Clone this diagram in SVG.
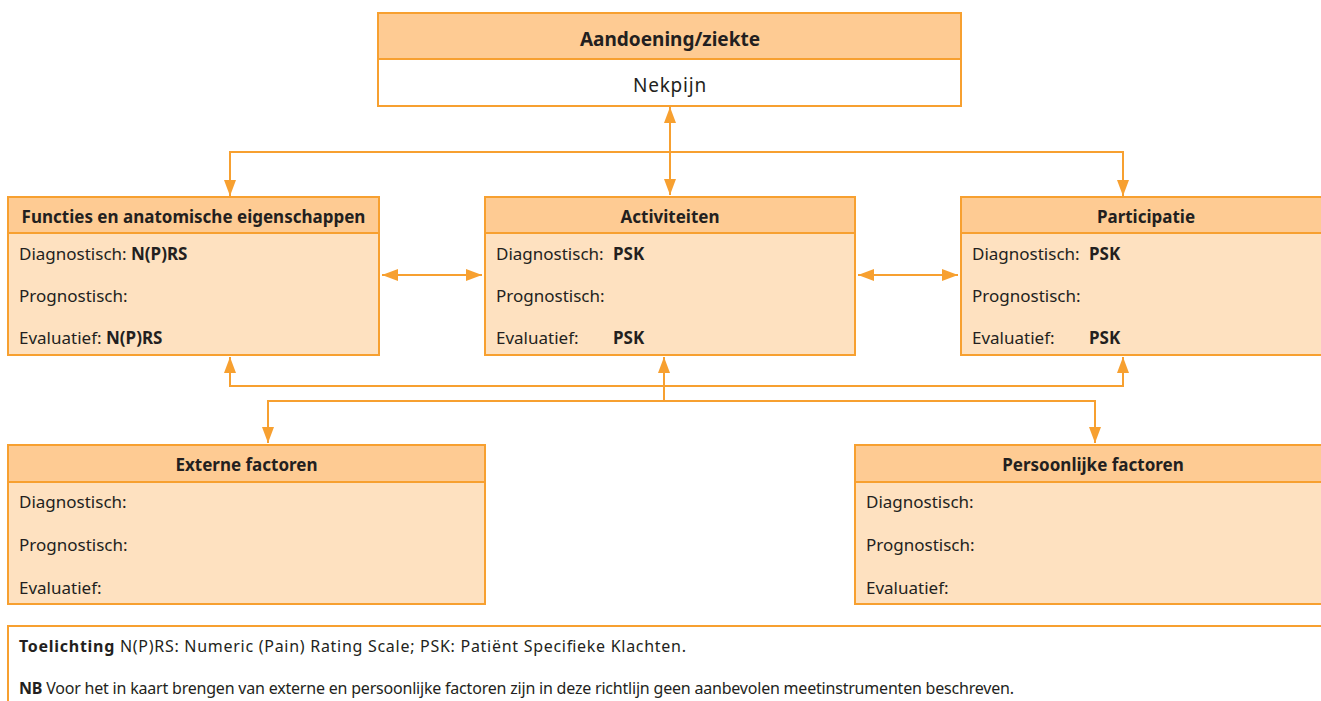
<svg xmlns="http://www.w3.org/2000/svg" width="1321" height="701" viewBox="0 0 1321 701">
<defs>
<style>
.hd{fill:#FECB93;stroke:#F7A030;stroke-width:2}
.bd{fill:#FEE1C0;stroke:#F7A030;stroke-width:2}
.wh{fill:#FFFFFF;stroke:#F7A030;stroke-width:2}
.t{font-family:"Noto Sans","Liberation Sans",sans-serif;fill:#231F20;font-size:17px}
.f{font-family:"Noto Sans","Liberation Sans",sans-serif;fill:#231F20;font-size:16px}
.b{font-weight:bold}
.ttl{font-family:"Noto Sans","Liberation Sans",sans-serif;fill:#231F20;font-size:17px;font-weight:bold;text-anchor:middle}
.big{font-size:19px}
.c{fill:none;stroke:#F7A030;stroke-width:2}
</style>
<marker id="ah" viewBox="0 0 16 12" refX="16" refY="6" markerWidth="16" markerHeight="12" markerUnits="userSpaceOnUse" orient="auto-start-reverse">
<path d="M0,0 L16,6 L0,12 z" fill="#F7A030"/>
</marker>
</defs>
<rect width="1321" height="701" fill="#FFFFFF"/>
<g id="connectors">
<path class="c" d="M670,107 L670,195" marker-start="url(#ah)" marker-end="url(#ah)"/>
<path class="c" d="M230,196 L230,152 L1123,152 L1123,196" marker-start="url(#ah)" marker-end="url(#ah)"/>
<path class="c" d="M382,275 L482,275" marker-start="url(#ah)" marker-end="url(#ah)"/>
<path class="c" d="M858,275 L958,275" marker-start="url(#ah)" marker-end="url(#ah)"/>
<path class="c" d="M230,357 L230,386 L1123,386 L1123,357" marker-start="url(#ah)" marker-end="url(#ah)"/>
<path class="c" d="M268,443 L268,401 L1095,401 L1095,443" marker-start="url(#ah)" marker-end="url(#ah)"/>
<path class="c" d="M664,401 L664,357" marker-end="url(#ah)"/>
</g>
<g id="aandoening">
<rect class="wh" x="378" y="13" width="583" height="93"/>
<rect class="hd" x="378" y="13" width="583" height="46"/>
<text class="ttl big" x="670" y="46">Aandoening/ziekte</text>
<text class="t big" x="670" y="92" text-anchor="middle" letter-spacing="0.8">Nekpijn</text>
</g>
<g id="functies">
<rect class="bd" x="8" y="197" width="371" height="158"/>
<rect class="hd" x="8" y="197" width="371" height="36"/>
<text class="ttl" x="193.5" y="223">Functies en anatomische eigenschappen</text>
<text class="t" x="19" y="260">Diagnostisch: <tspan class="b">N(P)RS</tspan></text>
<text class="t" x="19" y="302">Prognostisch:</text>
<text class="t" x="19" y="344">Evaluatief: <tspan class="b">N(P)RS</tspan></text>
</g>
<g id="activiteiten">
<rect class="bd" x="485" y="197" width="370" height="158"/>
<rect class="hd" x="485" y="197" width="370" height="36"/>
<text class="ttl" x="670" y="223">Activiteiten</text>
<text class="t" x="496" y="260">Diagnostisch:</text>
<text class="t b" x="613" y="260">PSK</text>
<text class="t" x="496" y="302">Prognostisch:</text>
<text class="t" x="496" y="344">Evaluatief:</text>
<text class="t b" x="613" y="344">PSK</text>
</g>
<g id="participatie">
<rect class="bd" x="961" y="197" width="370" height="158"/>
<rect class="hd" x="961" y="197" width="370" height="36"/>
<text class="ttl" x="1146" y="223">Participatie</text>
<text class="t" x="972" y="260">Diagnostisch:</text>
<text class="t b" x="1089" y="260">PSK</text>
<text class="t" x="972" y="302">Prognostisch:</text>
<text class="t" x="972" y="344">Evaluatief:</text>
<text class="t b" x="1089" y="344">PSK</text>
</g>
<g id="externe">
<rect class="bd" x="8" y="445" width="477" height="159"/>
<rect class="hd" x="8" y="445" width="477" height="37"/>
<text class="ttl" x="246.5" y="471">Externe factoren</text>
<text class="t" x="19" y="508">Diagnostisch:</text>
<text class="t" x="19" y="551">Prognostisch:</text>
<text class="t" x="19" y="594">Evaluatief:</text>
</g>
<g id="persoonlijke">
<rect class="bd" x="855" y="445" width="476" height="159"/>
<rect class="hd" x="855" y="445" width="476" height="37"/>
<text class="ttl" x="1093" y="471">Persoonlijke factoren</text>
<text class="t" x="866" y="508">Diagnostisch:</text>
<text class="t" x="866" y="551">Prognostisch:</text>
<text class="t" x="866" y="594">Evaluatief:</text>
</g>
<g id="toelichting">
<path class="c" d="M8,712 L8,626 L1330,626"/>
<text class="f" x="19" y="652" textLength="667" lengthAdjust="spacing"><tspan class="b">Toelichting</tspan> N(P)RS: Numeric (Pain) Rating Scale; PSK: Patiënt Specifieke Klachten.</text>
<text class="f" x="19" y="694" textLength="995" lengthAdjust="spacing"><tspan class="b">NB</tspan>  Voor het in kaart brengen van externe en persoonlijke factoren zijn in deze richtlijn geen aanbevolen meetinstrumenten beschreven.</text>
</g>
</svg>
